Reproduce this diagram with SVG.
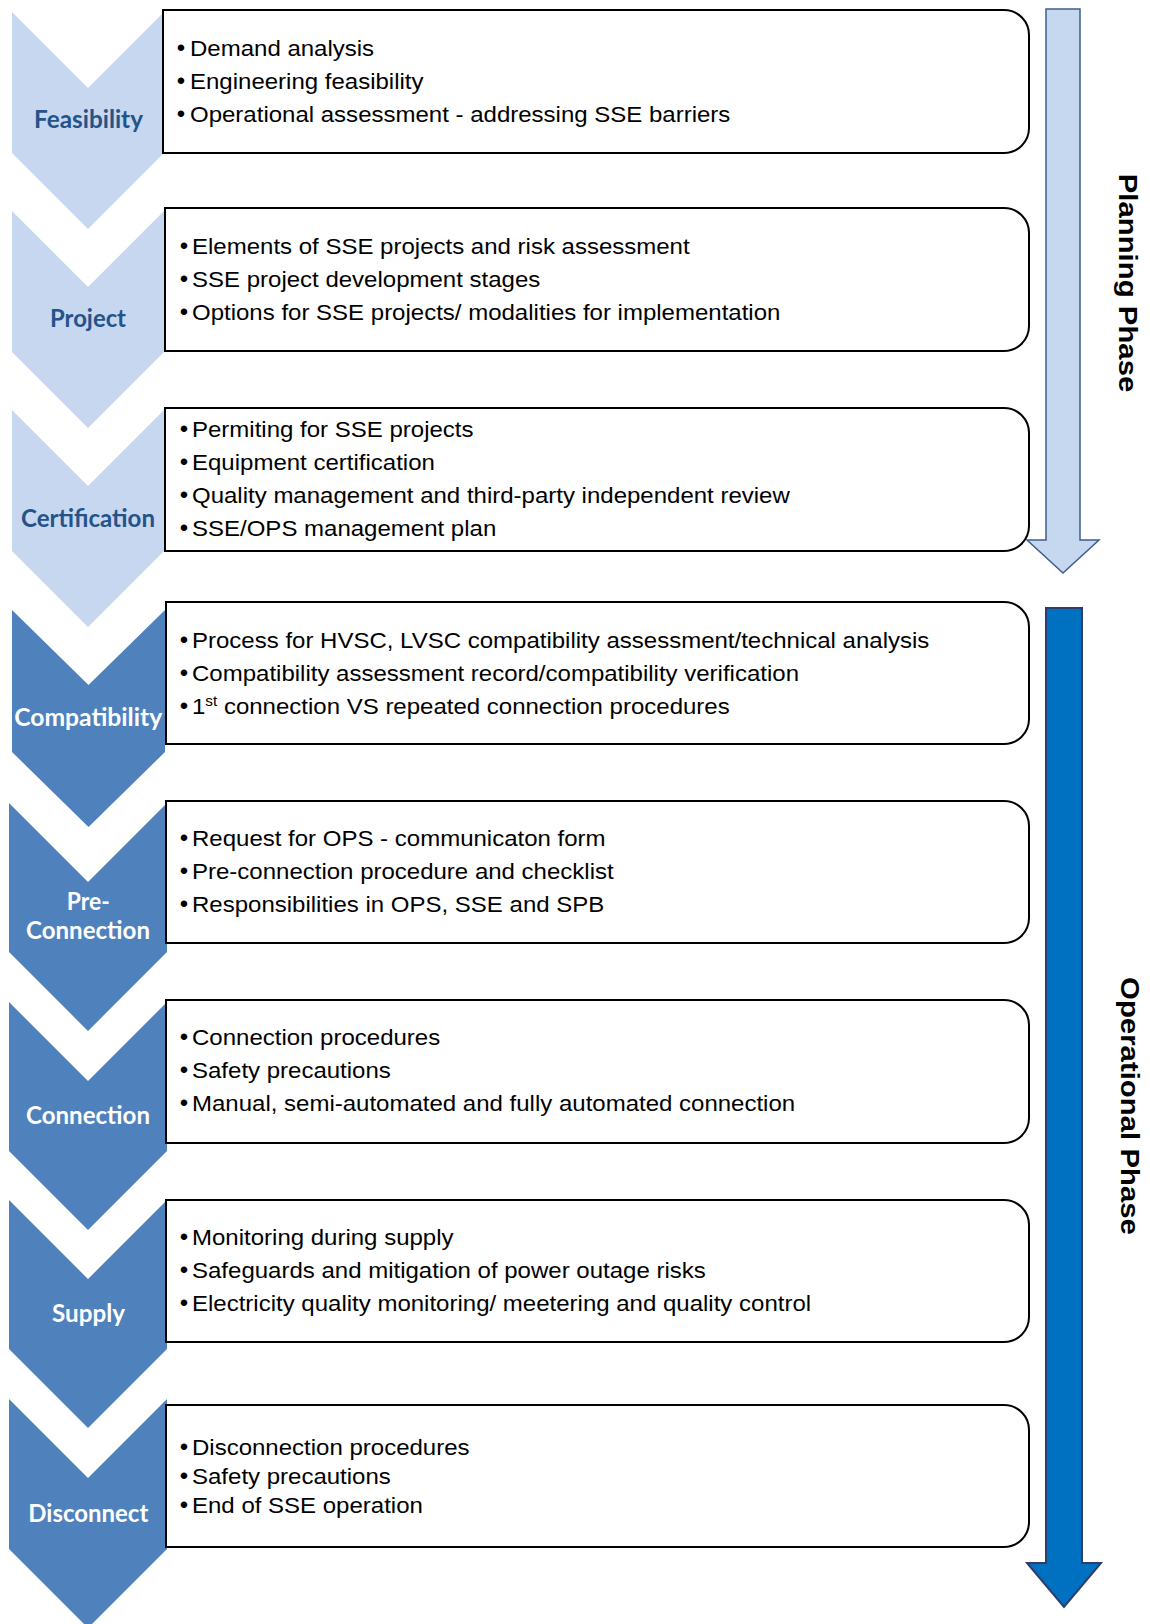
<svg xmlns="http://www.w3.org/2000/svg" width="1150" height="1624" viewBox="0 0 1150 1624">
<style>
.bg{fill:#ffffff}
.chl{fill:#C6D7EF}
.chd{fill:#4F81BD}
.box{fill:#ffffff;stroke:#000000;stroke-width:2}
.lbl{font-family:Lato,"Liberation Sans",sans-serif;font-weight:700;font-size:24px;text-anchor:middle}
.ll{fill:#24538A}
.ld{fill:#ffffff}
.b{font-family:"Liberation Sans",Arial,sans-serif;font-size:22px;fill:#000000}
.bul{font-family:"Liberation Sans",Arial,sans-serif;font-size:24px;fill:#000000;text-anchor:middle}
.sup{font-size:14px}
.ph{font-family:"Liberation Sans",Arial,sans-serif;font-weight:700;font-size:26px;fill:#000000;text-anchor:middle}
.arl{fill:#C6D8EF;stroke:#3F5C8C;stroke-width:1.5}
.ard{fill:#0070C0;stroke:#2F3D6B;stroke-width:2}
</style>
<rect class="bg" x="0" y="0" width="1150" height="1624"/>

<g id="phase-arrows">
<path class="arl" d="M1046,9 H1080 V540 H1099 L1063,573 L1027,540 H1046 Z"/>
<path class="ard" d="M1046,608 H1082 V1563 H1101 L1064,1607 L1027,1563 H1046 Z"/>
</g>

<g id="phase-labels">
<text class="ph" transform="translate(1119,283) rotate(90) scale(1.13,1)">Planning Phase</text>
<text class="ph" transform="translate(1121,1106) rotate(90) scale(1.13,1)">Operational Phase</text>
</g>

<g id="feasibility">
<path class="chl" d="M12,12 L88,88 L164,12 L164,153 L88,229 L12,153 Z"/>
<path class="box" d="M163,10 H1004 A25,25 0 0 1 1029,35 V128 A25,25 0 0 1 1004,153 H163 Z"/>
<text class="lbl ll" x="88.5" y="128" textLength="109" lengthAdjust="spacingAndGlyphs">Feasibility</text>
<text class="bul" x="181" y="56">•</text>
<text class="b" transform="translate(190,56) scale(1.092,1)">Demand analysis</text>
<text class="bul" x="181" y="89">•</text>
<text class="b" transform="translate(190,89) scale(1.092,1)">Engineering feasibility</text>
<text class="bul" x="181" y="122">•</text>
<text class="b" transform="translate(190,122) scale(1.092,1)">Operational assessment - addressing SSE barriers</text>
</g>

<g id="project">
<path class="chl" d="M12,211 L88,287 L164,211 L164,352 L88,428 L12,352 Z"/>
<path class="box" d="M165,208 H1004 A25,25 0 0 1 1029,233 V326 A25,25 0 0 1 1004,351 H165 Z"/>
<text class="lbl ll" x="88" y="327" textLength="76" lengthAdjust="spacingAndGlyphs">Project</text>
<text class="bul" x="184" y="254">•</text>
<text class="b" transform="translate(192,254) scale(1.092,1)">Elements of SSE projects and risk assessment</text>
<text class="bul" x="184" y="287">•</text>
<text class="b" transform="translate(192,287) scale(1.092,1)">SSE project development stages</text>
<text class="bul" x="184" y="320">•</text>
<text class="b" transform="translate(192,320) scale(1.092,1)">Options for SSE projects/ modalities for implementation</text>
</g>

<g id="certification">
<path class="chl" d="M12,410 L88,486 L164,410 L164,551 L88,627 L12,551 Z"/>
<path class="box" d="M165,408 H1004 A25,25 0 0 1 1029,433 V526 A25,25 0 0 1 1004,551 H165 Z"/>
<text class="lbl ll" x="88" y="526.5" textLength="134" lengthAdjust="spacingAndGlyphs">Certification</text>
<text class="bul" x="184" y="436.5">•</text>
<text class="b" transform="translate(192,436.5) scale(1.092,1)">Permiting for SSE projects</text>
<text class="bul" x="184" y="469.5">•</text>
<text class="b" transform="translate(192,469.5) scale(1.092,1)">Equipment certification</text>
<text class="bul" x="184" y="502.5">•</text>
<text class="b" transform="translate(192,502.5) scale(1.092,1)">Quality management and third-party independent review</text>
<text class="bul" x="184" y="535.5">•</text>
<text class="b" transform="translate(192,535.5) scale(1.092,1)">SSE/OPS management plan</text>
</g>

<g id="compatibility">
<path class="chd" d="M12,610 L88.5,685 L165,610 L165,752 L88.5,827 L12,752 Z"/>
<path class="box" d="M166,602 H1004 A25,25 0 0 1 1029,627 V719 A25,25 0 0 1 1004,744 H166 Z"/>
<text class="lbl ld" x="88.2" y="726" textLength="148" lengthAdjust="spacingAndGlyphs">Compatibility</text>
<text class="bul" x="184" y="648">•</text>
<text class="b" transform="translate(192,648) scale(1.092,1)">Process for HVSC, LVSC compatibility assessment/technical analysis</text>
<text class="bul" x="184" y="681">•</text>
<text class="b" transform="translate(192,681) scale(1.092,1)">Compatibility assessment record/compatibility verification</text>
<text class="bul" x="184" y="714">•</text>
<text class="b" transform="translate(192,714) scale(1.092,1)">1<tspan class="sup" dy="-8">st</tspan><tspan dy="8"> connection VS repeated connection procedures</tspan></text>
</g>

<g id="pre-connection">
<path class="chd" d="M9,803 L88,882 L167,803 L167,952 L88,1031 L9,952 Z"/>
<path class="box" d="M166,801 H1004 A25,25 0 0 1 1029,826 V918 A25,25 0 0 1 1004,943 H166 Z"/>
<text class="lbl ld" x="88.3" y="910" textLength="43" lengthAdjust="spacingAndGlyphs">Pre-</text>
<text class="lbl ld" x="88" y="939" textLength="124" lengthAdjust="spacingAndGlyphs">Connection</text>
<text class="bul" x="184" y="845.5">•</text>
<text class="b" transform="translate(192,845.5) scale(1.092,1)">Request for OPS - communicaton form</text>
<text class="bul" x="184" y="878.5">•</text>
<text class="b" transform="translate(192,878.5) scale(1.092,1)">Pre-connection procedure and checklist</text>
<text class="bul" x="184" y="911.5">•</text>
<text class="b" transform="translate(192,911.5) scale(1.092,1)">Responsibilities in OPS, SSE and SPB</text>
</g>

<g id="connection">
<path class="chd" d="M9,1002 L88,1081 L167,1002 L167,1151 L88,1230 L9,1151 Z"/>
<path class="box" d="M166,1000 H1004 A25,25 0 0 1 1029,1025 V1118 A25,25 0 0 1 1004,1143 H166 Z"/>
<text class="lbl ld" x="88" y="1124" textLength="124" lengthAdjust="spacingAndGlyphs">Connection</text>
<text class="bul" x="184" y="1044.5">•</text>
<text class="b" transform="translate(192,1044.5) scale(1.092,1)">Connection procedures</text>
<text class="bul" x="184" y="1077.5">•</text>
<text class="b" transform="translate(192,1077.5) scale(1.092,1)">Safety precautions</text>
<text class="bul" x="184" y="1110.5">•</text>
<text class="b" transform="translate(192,1110.5) scale(1.092,1)">Manual, semi-automated and fully automated connection</text>
</g>

<g id="supply">
<path class="chd" d="M9,1200 L88,1279 L167,1200 L167,1349 L88,1428 L9,1349 Z"/>
<path class="box" d="M166,1200 H1004 A25,25 0 0 1 1029,1225 V1317 A25,25 0 0 1 1004,1342 H166 Z"/>
<text class="lbl ld" x="88.5" y="1322" textLength="73" lengthAdjust="spacingAndGlyphs">Supply</text>
<text class="bul" x="184" y="1244.5">•</text>
<text class="b" transform="translate(192,1244.5) scale(1.092,1)">Monitoring during supply</text>
<text class="bul" x="184" y="1277.5">•</text>
<text class="b" transform="translate(192,1277.5) scale(1.092,1)">Safeguards and mitigation of power outage risks</text>
<text class="bul" x="184" y="1310.5">•</text>
<text class="b" transform="translate(192,1310.5) scale(1.092,1)">Electricity quality monitoring/ meetering and quality control</text>
</g>

<g id="disconnect">
<path class="chd" d="M9,1399 L88,1478 L167,1399 L167,1549 L88,1628 L9,1549 Z"/>
<path class="box" d="M166,1405 H1004 A25,25 0 0 1 1029,1430 V1522 A25,25 0 0 1 1004,1547 H166 Z"/>
<text class="lbl ld" x="88.3" y="1522" textLength="120" lengthAdjust="spacingAndGlyphs">Disconnect</text>
<text class="bul" x="184" y="1454.5">•</text>
<text class="b" transform="translate(192,1454.5) scale(1.092,1)">Disconnection procedures</text>
<text class="bul" x="184" y="1483.5">•</text>
<text class="b" transform="translate(192,1483.5) scale(1.092,1)">Safety precautions</text>
<text class="bul" x="184" y="1512.5">•</text>
<text class="b" transform="translate(192,1512.5) scale(1.092,1)">End of SSE operation</text>
</g>
</svg>
